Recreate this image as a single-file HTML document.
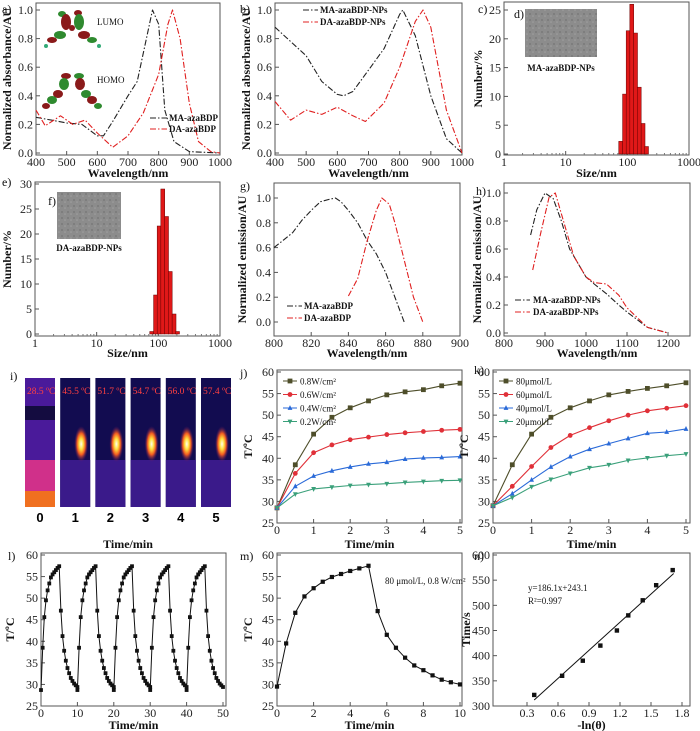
<!DOCTYPE html>
<html><head><meta charset="utf-8">
<style>
html,body{margin:0;padding:0;background:#fff;}
svg{display:block;font-family:"Liberation Serif",serif;}
.tk{font-size:12px;fill:#222;}
.tt{font-size:12px;font-weight:bold;fill:#111;}
.pl{font-size:12px;fill:#111;}
.lg{font-size:9px;font-weight:bold;fill:#111;}
.lg2{font-size:9px;fill:#111;}
</style></head>
<body>
<svg id="fig" width="700" height="731" viewBox="0 0 700 731">
<defs>
<radialGradient id="hot" cx="50%" cy="50%" r="50%">
<stop offset="0" stop-color="#fffef0"/><stop offset="0.3" stop-color="#ffe040"/><stop offset="0.6" stop-color="#f05a20"/><stop offset="1" stop-color="#5a1060" stop-opacity="0"/>
</radialGradient>
<pattern id="noise" width="6" height="6" patternUnits="userSpaceOnUse"><rect width="6" height="6" fill="#8c8c8c"/><circle cx="2" cy="2" r="1" fill="#7a7a7a"/><circle cx="5" cy="4" r="0.8" fill="#a0a0a0"/></pattern>
</defs>
<g id="layer"></g>
</svg>
<script>
// ---------- DATA ----------
const aWl = [400,450,500,550,600,620,650,700,730,760,780,800,820,850,900,1000];
const aMA = [0.25,0.23,0.21,0.20,0.12,0.12,0.22,0.40,0.50,0.80,1.00,0.90,0.30,0.08,0.01,0.0];
const aDAwl = [400,430,480,520,560,600,650,700,750,800,830,845,870,900,930,970,1000];
const aDA = [0.30,0.19,0.26,0.20,0.23,0.14,0.04,0.12,0.28,0.55,0.90,1.00,0.80,0.35,0.08,0.01,0.0];
const bMAwl = [400,450,500,550,600,620,650,700,750,800,810,850,900,950,1000];
const bMA = [0.88,0.78,0.68,0.50,0.41,0.40,0.43,0.58,0.73,0.97,1.00,0.82,0.40,0.10,0.0];
const bDAwl = [400,450,500,550,600,650,690,750,800,850,875,900,950,1000];
const bDA = [0.36,0.23,0.30,0.27,0.32,0.26,0.22,0.35,0.60,0.92,1.00,0.88,0.30,0.0];
const histSize = [78,90,103,118,136,156,180,205];
const cCounts = [2.2,10.4,21.4,26,21,11.6,5.3,1.3];
const eCounts = [0.5,7.8,21.6,29,23.5,12.5,4,0.5];
const gMAwl = [800,805,810,815,820,825,830,833,836,840,845,850,855,860,865,870];
const gMA = [0.60,0.66,0.72,0.82,0.90,0.97,0.99,1.00,0.97,0.90,0.80,0.66,0.55,0.40,0.20,0.0];
const gDAwl = [840,845,850,855,858,862,865,870,875,880];
const gDA = [0.21,0.35,0.65,0.90,1.00,0.95,0.80,0.50,0.20,0.0];
const hMAwl = [865,880,900,920,940,960,980,1000,1020,1050,1080,1100,1150,1200];
const hMA = [0.70,0.88,1.00,0.96,0.80,0.60,0.50,0.40,0.35,0.28,0.20,0.15,0.04,0.0];
const hDAwl = [870,890,910,925,950,970,1000,1020,1050,1080,1100,1150,1200];
const hDA = [0.45,0.72,0.97,1.00,0.75,0.55,0.40,0.36,0.35,0.27,0.18,0.04,0.0];
const tHalf = [0,0.5,1,1.5,2,2.5,3,3.5,4,4.5,5];
const jLabels = ['0.8W/cm²','0.6W/cm²','0.4W/cm²','0.2W/cm²'];
const j08 = [28.5,38.5,45.6,49.5,51.7,53.3,54.7,55.4,55.9,56.8,57.4];
const j06 = [28.5,36.5,41.3,43.1,44.3,44.9,45.5,45.9,46.2,46.5,46.7];
const j04 = [28.5,33.5,35.9,37.1,38.0,38.7,39.1,39.8,40.1,40.2,40.4];
const j02 = [28.5,31.7,32.9,33.3,33.7,33.9,34.1,34.4,34.6,34.8,34.9];
const kLabels = ['80μmol/L','60μmol/L','40μmol/L','20μmol/L'];
const k80 = [29,38.5,45.6,49.5,51.7,53.3,54.7,55.5,56.2,56.8,57.5];
const k60 = [29,33.5,38.1,42.5,45.3,47.1,48.7,50.0,51.0,51.6,52.2];
const k40 = [29,31.8,35.0,38.0,40.4,42.1,43.4,44.6,45.8,46.1,46.8];
const k20 = [29,30.9,33.4,35.1,36.5,37.8,38.5,39.5,40.1,40.6,41.0];
const lHeat = [28.7,38.5,45.6,49.5,51.8,53.4,54.8,55.5,56.0,56.5,57.0,57.4];
const lCool = [47.1,41.2,37.8,35.5,33.8,32.6,31.5,30.8,30.2,29.8,29.4];
const lCycles = 5;
const mTime = [0,0.5,1,1.5,2,2.5,3,3.5,4,4.5,5,5.5,6,6.5,7,7.5,8,8.5,9,9.5,10];
const mTemp = [29.5,39.5,46.6,50.4,52.3,53.8,54.9,55.6,56.3,56.9,57.5,47,41.5,38.5,36.2,34.4,33.3,32.1,31.1,30.5,30];
const nX = [0.37,0.64,0.84,1.01,1.17,1.28,1.42,1.55,1.71];
const nY = [322,360,390,420,450,480,510,540,570];
const nSlope = 186.1, nIntercept = 243.1;
const iTemps = ['28.5 ºC','45.5 ºC','51.7 ºC','54.7 ºC','56.0 ºC','57.4 ºC'];
const iTimes = ['0','1','2','3','4','5'];

// ---------- HELPERS ----------
const NS='http://www.w3.org/2000/svg';
const root=document.getElementById('layer');
function mk(tag,attrs,parent,txt){const e=document.createElementNS(NS,tag);for(const k in attrs)e.setAttribute(k,attrs[k]);if(txt!==undefined)e.textContent=txt;(parent||root).appendChild(e);return e;}
function nm(e,n,i){
  
  
  return e;}
function axis(c){
  const lx=c.log?(v=>Math.log10(v)):(v=>v);
  c.X=v=>c.xa[1]+(lx(v)-lx(c.xa[0]))*(c.xa[3]-c.xa[1])/(lx(c.xa[2])-lx(c.xa[0]));
  c.Y=v=>c.ya[1]+(v-c.ya[0])*(c.ya[3]-c.ya[1])/(c.ya[2]-c.ya[0]);
  const g=nm(mk('g',{}),c.name+'-axes',false);
  const fr=mk('rect',{x:c.l,y:c.t,width:c.r-c.l,height:c.b-c.t,fill:'none',stroke:'#555','stroke-width':1},g);
  nm(fr,c.name+'-frame',false);
  c.xt.forEach((v,i)=>{const x=c.X(v);
    const t=mk('line',{x1:x,x2:x,y1:c.b,y2:c.b-4,stroke:'#555'},g);nm(t,'x-tick',false);
    const s=mk('text',{x:x,y:c.b+11,'text-anchor':'middle',class:'tk'},g,c.xl[i]);nm(s,'x-tick-label',false);});
  if(c.log){[2,3,4,5,6,7,8,9].forEach(m=>[1,10,100].forEach(d=>{const x=c.X(m*d);const t=mk('line',{x1:x,x2:x,y1:c.b,y2:c.b-2,stroke:'#777'},g);nm(t,'x-minor-tick',false);}));}
  c.yt.forEach((v,i)=>{const y=c.Y(v);
    const t=mk('line',{x1:c.l,x2:c.l+4,y1:y,y2:y,stroke:'#555'},g);nm(t,'y-tick',false);
    const s=mk('text',{x:c.l-3,y:y+4,'text-anchor':'end',class:'tk'},g,c.yl[i]);nm(s,'y-tick-label',false);});
  const xt=mk('text',{x:(c.l+c.r)/2,y:c.xty,'text-anchor':'middle',class:'tt'},g,c.xtitle);nm(xt,'x-axis-title',false);
  const yx=c.ytx, yy=(c.t+c.b)/2;
  const yt=mk('text',{x:yx,y:yy,'text-anchor':'middle',class:'tt',transform:`rotate(-90 ${yx} ${yy})`},g,c.ytitle);nm(yt,'y-axis-title',false);
  return c;}
function rng(a,b,s){const r=[];for(let v=a;v<=b+1e-9;v+=s)r.push(+v.toFixed(3));return r;}
function line(c,xs,ys,col,dash,name,w){
  const pts=xs.map((x,i)=>c.X(x).toFixed(1)+','+c.Y(ys[i]).toFixed(1)).join(' ');
  const p=mk('polyline',{points:pts,fill:'none',stroke:col,'stroke-width':w||1.1,'stroke-dasharray':dash||'none','stroke-linejoin':'round'});
  nm(p,name,false);return p;}
function label(x,y,t,cls){const e=mk('text',{x:x,y:y,class:cls||'pl'},root,t);nm(e,'panel-label',false);return e;}
function marker(c,x,y,col,shape,size,name){
  const X=c.X(x),Y=c.Y(y),s=size||2.6;let e;
  if(shape==='sq')e=mk('rect',{x:X-s,y:Y-s,width:2*s,height:2*s,fill:col});
  else if(shape==='ci')e=mk('circle',{cx:X,cy:Y,r:s,fill:col});
  else if(shape==='up')e=mk('polygon',{points:`${X},${Y-s-0.5} ${X-s},${Y+s-0.5} ${X+s},${Y+s-0.5}`,fill:col});
  else e=mk('polygon',{points:`${X},${Y+s+0.5} ${X-s},${Y-s+0.5} ${X+s},${Y-s+0.5}`,fill:col});
  nm(e,name,false);return e;}

const DD='6,2,1.5,2';
const R1=177, R2=357, R3=548, R4=729;
// ---------- PANEL a ----------
const A=axis({name:'panel-a',l:36,r:220,t:3,b:155,xa:[400,36,1000,220],ya:[0,153,1,10],
 xt:rng(400,1000,100),xl:rng(400,1000,100).map(String),yt:rng(0,1,0.2),yl:rng(0,1,0.2).map(v=>v.toFixed(1)),
 xtitle:'Wavelength/nm',xty:R1,ytitle:'Normalized absorbance/AU',ytx:11});
label(2,13,'a)');
(function(){const g=nm(mk('g',{}),'molecule-orbital-inset',false);
 const blobs=[[62,14,4,3,'#2f8a2f'],[78,13,4,3,'#8a1a1a'],[66,22,5,8,'#8a1a1a'],[79,22,5,8,'#2f8a2f'],[72,28,3,3,'#8a1a1a'],
 [60,35,6,4,'#2f8a2f'],[84,35,6,4,'#8a1a1a'],[52,40,5,3,'#8a1a1a'],[92,40,5,3,'#2f8a2f'],[46,46,2,2,'#3a7'],[99,46,2,2,'#3a7'],
 [66,76,5,3,'#8a1a1a'],[79,76,5,3,'#2f8a2f'],[64,84,5,6,'#2f8a2f'],[80,84,5,6,'#8a1a1a'],[58,94,5,4,'#8a1a1a'],[86,94,5,4,'#2f8a2f'],
 [52,100,5,4,'#2f8a2f'],[92,100,5,4,'#8a1a1a'],[46,106,4,3,'#8a1a1a'],[98,106,4,3,'#2f8a2f']];
 blobs.forEach(b=>{const e=mk('ellipse',{cx:b[0],cy:b[1],rx:b[2],ry:b[3],fill:b[4]},g);nm(e,'orbital-lobe',false);});
 const t1=mk('text',{x:97,y:25,class:'lg2','font-size':'7'},g,'LUMO');nm(t1,'lumo-label',false);
 const t2=mk('text',{x:97,y:83,class:'lg2','font-size':'7'},g,'HOMO');nm(t2,'homo-label',false);})();
line(A,aWl,aMA,'#222',DD,'series-ma-azabdp');
line(A,aDAwl,aDA,'#e02020',DD,'series-da-azabdp');
nm(mk('line',{x1:150,x2:167,y1:118,y2:118,stroke:'#222','stroke-dasharray':DD}),'legend-swatch-ma',false);
nm(mk('text',{x:169,y:121,class:'lg'},root,'MA-azaBDP'),'legend-entry-ma',false);
nm(mk('line',{x1:150,x2:167,y1:129,y2:129,stroke:'#e02020','stroke-dasharray':DD}),'legend-swatch-da',false);
nm(mk('text',{x:169,y:132,class:'lg'},root,'DA-azaBDP'),'legend-entry-da',false);

// ---------- PANEL b ----------
const B=axis({name:'panel-b',l:275,r:462,t:3,b:155,xa:[400,275,1000,462],ya:[0,153,1,10],
 xt:rng(400,1000,100),xl:rng(400,1000,100).map(String),yt:rng(0,1,0.2),yl:rng(0,1,0.2).map(v=>v.toFixed(1)),
 xtitle:'Wavelength/nm',xty:R1,ytitle:'Normalized absorbance/AU',ytx:250});
label(240,13,'b)');
line(B,bMAwl,bMA,'#222',DD,'series-ma-azabdp-nps');
line(B,bDAwl,bDA,'#e02020',DD,'series-da-azabdp-nps');
nm(mk('line',{x1:303,x2:318,y1:10,y2:10,stroke:'#222','stroke-dasharray':DD}),'legend-swatch-ma-nps',false);
nm(mk('text',{x:320,y:13,class:'lg'},root,'MA-azaBDP-NPs'),'legend-entry-ma-nps',false);
nm(mk('line',{x1:303,x2:318,y1:22,y2:22,stroke:'#e02020','stroke-dasharray':DD}),'legend-swatch-da-nps',false);
nm(mk('text',{x:320,y:25,class:'lg'},root,'DA-azaBDP-NPs'),'legend-entry-da-nps',false);

// ---------- histograms ----------
function hist(c,counts,name){
  histSize.forEach((s,i)=>{const x0=c.X(s/1.075),x1=c.X(s*1.075);
    const r=mk('rect',{x:x0,y:c.Y(counts[i]),width:x1-x0,height:c.Y(0)-c.Y(counts[i]),fill:'#e01818',stroke:'#600','stroke-width':0.5});
    nm(r,name,false);});}
const C=axis({name:'panel-c',l:504,r:689,t:2,b:155,log:true,xa:[1,504,1000,689],ya:[0,154,25,10],
 xt:[1,10,100,1000],xl:['1','10','100','1000'],yt:rng(0,25,5),yl:rng(0,25,5).map(String),
 xtitle:'Size/nm',xty:R1,ytitle:'Number/%',ytx:482});
label(478,13,'c)');
nm(mk('rect',{x:525,y:9,width:72,height:48,fill:'url(#noise)'}),'tem-image-ma',false);
label(514,18,'d)','pl');
nm(mk('text',{x:561,y:71,'text-anchor':'middle',class:'lg'},root,'MA-azaBDP-NPs'),'tem-caption-ma',false);
hist(C,cCounts,'histogram-bar-ma');

const E=axis({name:'panel-e',l:35,r:220,t:182,b:336,log:true,xa:[1,35,1000,220],ya:[0,334,30,184],
 xt:[1,10,100,1000],xl:['1','10','100','1000'],yt:rng(0,30,5),yl:rng(0,30,5).map(String),
 xtitle:'Size/nm',xty:R2,ytitle:'Number/%',ytx:11});
label(2,186,'e)');
nm(mk('rect',{x:57,y:192,width:64,height:47,fill:'url(#noise)'}),'tem-image-da',false);
label(48,205,'f)','pl');
nm(mk('text',{x:89,y:251,'text-anchor':'middle',class:'lg'},root,'DA-azaBDP-NPs'),'tem-caption-da',false);
hist(E,eCounts,'histogram-bar-da');

// ---------- PANEL g ----------
const G=axis({name:'panel-g',l:274,r:460,t:183,b:336,xa:[800,274,900,460],ya:[0,322,1,198],
 xt:rng(800,900,20),xl:rng(800,900,20).map(String),yt:rng(0,1,0.2),yl:rng(0,1,0.2).map(v=>v.toFixed(1)),
 xtitle:'Wavelength/nm',xty:R2,ytitle:'Normalized emission/AU',ytx:246});
label(240,190,'g)');
line(G,gMAwl,gMA,'#222',DD,'series-ma-azabdp-emission');
line(G,gDAwl,gDA,'#e02020',DD,'series-da-azabdp-emission');
nm(mk('line',{x1:287,x2:302,y1:306,y2:306,stroke:'#222','stroke-dasharray':DD}),'legend-swatch',false);
nm(mk('text',{x:304,y:309,class:'lg'},root,'MA-azaBDP'),'legend-entry',false);
nm(mk('line',{x1:287,x2:302,y1:318,y2:318,stroke:'#e02020','stroke-dasharray':DD}),'legend-swatch',false);
nm(mk('text',{x:304,y:321,class:'lg'},root,'DA-azaBDP'),'legend-entry',false);

// ---------- PANEL h ----------
const H=axis({name:'panel-h',l:504,r:690,t:183,b:336,xa:[800,504,1200,668],ya:[0,333,1,193],
 xt:rng(800,1200,100),xl:rng(800,1200,100).map(String),yt:rng(0,1,0.2),yl:rng(0,1,0.2).map(v=>v.toFixed(1)),
 xtitle:'Wavelength/nm',xty:R2,ytitle:'Normalized emission/AU',ytx:481});
label(476,195,'h)');
line(H,hMAwl,hMA,'#222',DD,'series-ma-nps-emission');
line(H,hDAwl,hDA,'#e02020',DD,'series-da-nps-emission');
nm(mk('line',{x1:515,x2:530,y1:300,y2:300,stroke:'#222','stroke-dasharray':DD}),'legend-swatch',false);
nm(mk('text',{x:533,y:303,class:'lg'},root,'MA-azaBDP-NPs'),'legend-entry',false);
nm(mk('line',{x1:515,x2:530,y1:312,y2:312,stroke:'#e02020','stroke-dasharray':DD}),'legend-swatch',false);
nm(mk('text',{x:533,y:315,class:'lg'},root,'DA-azaBDP-NPs'),'legend-entry',false);

// ---------- PANEL i (thermal images) ----------
label(10,380,'i)');
iTemps.forEach((t,i)=>{
  const x=25+i*35.2, w=30, y=378, h=129;
  const g=nm(mk('g',{}),'thermal-image-'+i,false);
  if(i===0){
    nm(mk('rect',{x:x,y:y,width:w,height:h,fill:'#4a1a9a'},g),'thermal-bg',false);
    nm(mk('rect',{x:x,y:y+28,width:w,height:14,fill:'#140c40'},g),'thermal-band',false);
    nm(mk('rect',{x:x,y:y+82,width:w,height:33,fill:'#d0308a'},g),'thermal-band',false);
    nm(mk('rect',{x:x,y:y+113,width:w,height:16,fill:'#f07020'},g),'thermal-band',false);
  } else {
    nm(mk('rect',{x:x,y:y,width:w,height:h,fill:'#120c50'},g),'thermal-bg',false);
    nm(mk('rect',{x:x,y:y+82,width:w,height:47,fill:'#3a1a8a'},g),'thermal-band',false);
    nm(mk('ellipse',{cx:x+w*0.7,cy:y+66,rx:7,ry:18,fill:'url(#hot)'},g),'hot-spot',false);
  }
  nm(mk('text',{x:x+2,y:y+16,fill:'#ff4040','font-size':'9.5'},g,t),'temperature-readout',false);
  nm(mk('text',{x:x+w/2,y:522,'text-anchor':'middle','font-family':'Liberation Sans','font-weight':'bold','font-size':'13'},root,iTimes[i]),'time-label',false);
});
nm(mk('text',{x:128,y:R3,'text-anchor':'middle',class:'tt'},root,'Time/min'),'x-axis-title',false);

// ---------- PANEL j, k ----------
const cols=['#4e4e2a','#e03038','#2a6ad8','#3aa07a'];
const shapes=['sq','ci','up','dn'];
function tPanel(cfg,series,labels,name){
  const P=axis(cfg);
  series.forEach((s,si)=>{line(P,tHalf,s,cols[si],null,name+'-series-'+si,1.1);
    s.forEach((v,i)=>marker(P,tHalf[i],v,cols[si],shapes[si],2.4,name+'-point'));});
  labels.forEach((lb,i)=>{const y=cfg.t+11+i*13.5;
    nm(mk('line',{x1:cfg.l+6,x2:cfg.l+20,y1:y,y2:y,stroke:cols[i]}),'legend-swatch',false);
    marker({X:v=>cfg.l+13,Y:v=>y},0,0,cols[i],shapes[i],2.4,'legend-marker');
    nm(mk('text',{x:cfg.l+23,y:y+3.5,class:'lg2'},root,lb),'legend-entry',false);});
  return P;}
tPanel({name:'panel-j',l:277,r:462,t:370,b:523,xa:[0,277,5,460],ya:[25,523,60,372],
 xt:rng(0,5,1),xl:rng(0,5,1).map(String),yt:rng(25,60,5),yl:rng(25,60,5).map(String),
 xtitle:'Time/min',xty:R3,ytitle:'T/ºC',ytx:252},[j08,j06,j04,j02],jLabels,'panel-j');
label(240,377,'j)');
tPanel({name:'panel-k',l:493,r:690,t:370,b:523,xa:[0,493,5,686],ya:[25,523,60,372],
 xt:rng(0,5,1),xl:rng(0,5,1).map(String),yt:rng(25,60,5),yl:rng(25,60,5).map(String),
 xtitle:'Time/min',xty:R3,ytitle:'T/ºC',ytx:468},[k80,k60,k40,k20],kLabels,'panel-k');
label(474,374,'k)');

// ---------- PANEL l ----------
const L=axis({name:'panel-l',l:41,r:226,t:553,b:706,xa:[0,41,50,223],ya:[25,706,60,555],
 xt:rng(0,50,10),xl:rng(0,50,10).map(String),yt:rng(25,60,5),yl:rng(25,60,5).map(String),
 xtitle:'Time/min',xty:R4,ytitle:'T/ºC',ytx:14});
label(8,560,'l)');
(function(){const lt=[],lv=[];
 for(let c=0;c<lCycles;c++){
  lHeat.forEach((v,i)=>{lt.push(c*10+i*5/(lHeat.length-1));lv.push(v);});
  lCool.forEach((v,i)=>{lt.push(c*10+5+(i+1)*5/lCool.length);lv.push(v);});}
 line(L,lt,lv,'#111',null,'cycling-line',1);
 lt.forEach((t,i)=>marker(L,t,lv[i],'#111','sq',1.9,'cycling-point'));})();

// ---------- PANEL m ----------
const M=axis({name:'panel-m',l:277,r:462,t:553,b:706,xa:[0,277,10,460],ya:[25,706,60,555],
 xt:rng(0,10,2),xl:rng(0,10,2).map(String),yt:rng(25,60,5),yl:rng(25,60,5).map(String),
 xtitle:'Time/min',xty:R4,ytitle:'T/ºC',ytx:252});
label(240,560,'m)');
line(M,mTime,mTemp,'#111',null,'heating-cooling-line',1);
mTime.forEach((t,i)=>marker(M,t,mTemp[i],'#111','sq',2.1,'heating-cooling-point'));
nm(mk('text',{x:385,y:584,class:'lg2','font-size':'8'},root,'80 μmol/L, 0.8 W/cm²'),'condition-annotation',false);

// ---------- PANEL n ----------
const N=axis({name:'panel-n',l:493,r:690,t:553,b:706,xa:[0.3,527,1.8,682],ya:[300,706,600,555],
 xt:rng(0.3,1.8,0.3),xl:rng(0.3,1.8,0.3).map(v=>v.toFixed(1)),yt:rng(300,600,50),yl:rng(300,600,50).map(String),
 xtitle:'-ln(θ)',xty:R4,ytitle:'Time/s',ytx:470});
label(474,560,'n)');
line(N,[nX[0],nX[nX.length-1]+0.01],[nSlope*nX[0]+nIntercept,nSlope*(nX[nX.length-1]+0.01)+nIntercept],'#111',null,'fit-line',1);
nX.forEach((x,i)=>marker(N,x,nY[i],'#111','sq',2.2,'data-point'));
nm(mk('text',{x:528,y:591,class:'lg2','font-size':'8.5'},root,'y=186.1x+243.1'),'fit-equation',false);
nm(mk('text',{x:528,y:604,class:'lg2','font-size':'8.5'},root,'R²=0.997'),'fit-r-squared',false);
</script>
</body></html>
